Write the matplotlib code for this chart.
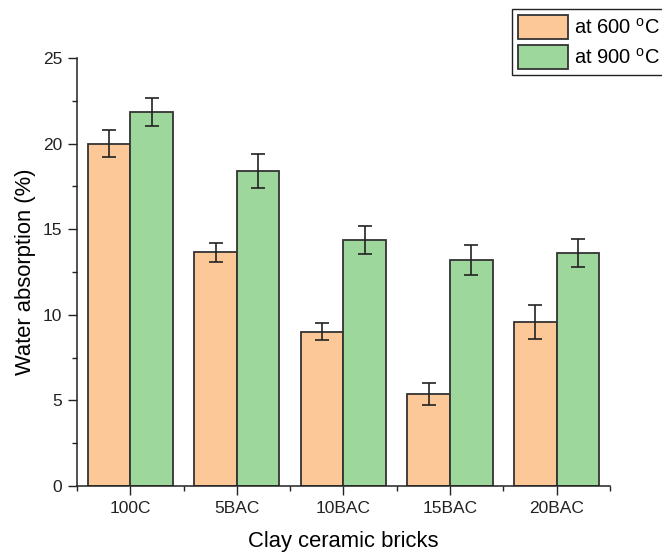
import matplotlib
matplotlib.use("Agg")
import matplotlib.pyplot as plt
import numpy as np

plt.rcParams["font.family"] = ["Liberation Sans", "DejaVu Sans"]
plt.rcParams["mathtext.default"] = "regular"

samples = ["100C", "5BAC", "10BAC", "15BAC", "20BAC"]
wa_600 = [20.0, 13.65, 9.0, 5.37, 9.58]
err_600 = [0.8, 0.55, 0.5, 0.62, 0.98]
wa_900 = [21.83, 18.4, 14.35, 13.2, 13.6]
err_900 = [0.83, 1.0, 0.82, 0.9, 0.82]

fig = plt.figure(figsize=(6.62, 5.54), dpi=100)
ax = fig.add_axes([0.1163, 0.1227, 0.805, 0.7726])

x = np.arange(len(samples))
w = 0.4
err_kw = dict(elinewidth=1.2, capthick=1.2, ecolor="#222222")
ax.bar(x - w / 2, wa_600, w, yerr=err_600, capsize=5, color="#FDC897",
       edgecolor="#333333", linewidth=1.3, error_kw=err_kw, label="at 600 $^{o}$C")
ax.bar(x + w / 2, wa_900, w, yerr=err_900, capsize=5, color="#9ED79B",
       edgecolor="#333333", linewidth=1.3, error_kw=err_kw, label="at 900 $^{o}$C")

ax.set_xlim(-0.5, 4.5)
ax.set_ylim(0, 25)
ax.set_xticks(x)
ax.set_xticklabels(samples)
ax.set_xticks(np.arange(-0.5, 5.0, 1.0), minor=True)
ax.set_yticks(np.arange(0, 26, 5))
ax.set_yticks(np.arange(2.5, 25, 5), minor=True)
ax.tick_params(which="major", direction="out", length=6.5, width=1, labelsize=12.5,
               colors="#222222", pad=4)
ax.tick_params(which="minor", direction="out", length=3.5, width=1, colors="#222222")
for s in ["top", "right"]:
    ax.spines[s].set_visible(False)
for s in ["left", "bottom"]:
    ax.spines[s].set_linewidth(1.1)
    ax.spines[s].set_color("#222222")

ax.set_xlabel("Clay ceramic bricks", fontsize=15.8, labelpad=11)
ax.set_ylabel("Water absorption (%)", fontsize=15.8, labelpad=5)

# legend sits partly outside the figure, upper right
fig.legend(loc="upper left", bbox_to_anchor=(0.773, 0.984), fontsize=14.5,
           frameon=True, fancybox=False, edgecolor="#222222", framealpha=1,
           handlelength=2.5, handleheight=1.45, handletextpad=0.3,
           labelspacing=0.3, borderpad=0.3, borderaxespad=0)

fig.savefig("out.png", dpi=100)
